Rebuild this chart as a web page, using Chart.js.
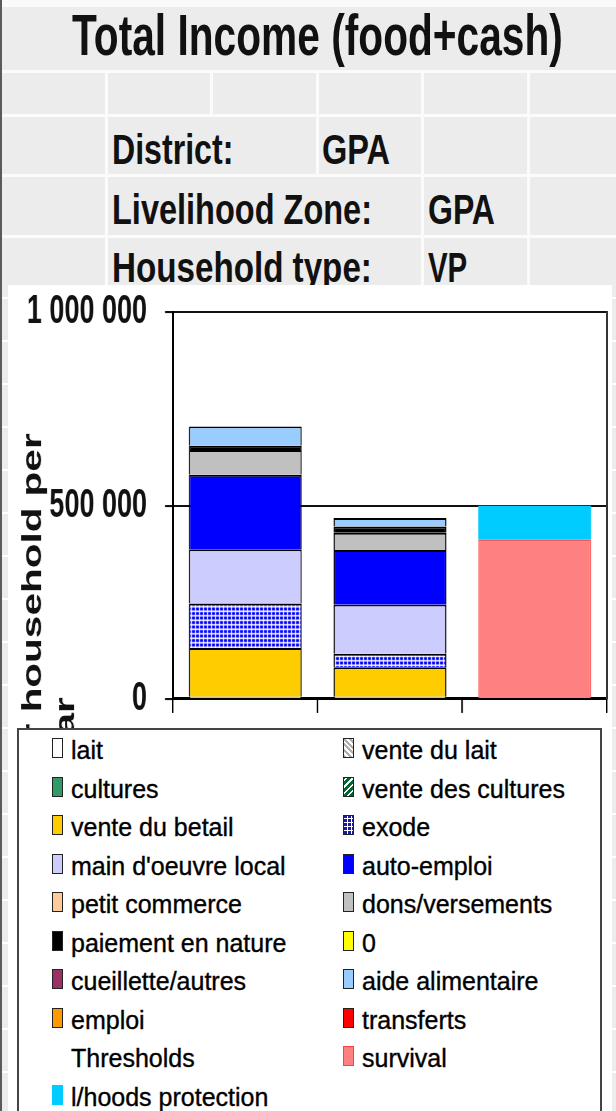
<!DOCTYPE html>
<html>
<head>
<meta charset="utf-8">
<script src="https://cdn.jsdelivr.net/npm/chart.js@4.4.1/dist/chart.umd.min.js"></script>
<style>
html,body{margin:0;padding:0;}
body{width:616px;height:1111px;overflow:hidden;background:#ececec;font-family:"Liberation Sans",Arial,sans-serif;}
#page{position:absolute;left:0;top:0;width:616px;height:1111px;overflow:hidden;background:#ececec;}
.topstrip{position:absolute;left:0;top:0;width:616px;height:7px;background:#fafafa;}
.leftline{position:absolute;left:0;top:0;width:2px;height:1111px;background:#5a5a5a;z-index:20;}
.hl{position:absolute;left:2px;width:614px;height:3px;background:#fbfbfb;}
.vl{position:absolute;width:3px;background:#fbfbfb;}
.txt{position:absolute;white-space:pre;color:#111;transform-origin:0 0;line-height:1;font-weight:bold;display:inline-block;}
.gutter{position:absolute;top:285px;height:826px;background:repeating-linear-gradient(#ececec 0 12px,#ffffff 12px 14px,#ececec 14px 43px);}
#panel{position:absolute;left:8px;top:285px;width:604px;height:826px;background:#fff;}
#chartBox{position:absolute;left:8px;top:260.7px;width:604px;height:326.2px;transform:scaleY(1.5);transform-origin:0 0;z-index:2;}
#ytitle{position:absolute;left:0;top:0;width:700px;line-height:33px;font-size:27px;font-weight:bold;color:#111;text-align:center;white-space:pre;transform-origin:0 0;transform:translate(16.1px,1264px) scaleY(1.5) rotate(-90deg);z-index:3;}
#legend{position:absolute;left:17px;top:728px;width:585px;height:420px;background:#fff;border:2px solid #444;box-sizing:border-box;z-index:5;
  display:grid;grid-template-columns:291px 1fr;grid-auto-rows:38.5px;padding:1.4px 0 0 33px;}
.item{display:flex;align-items:flex-start;font-size:25px;line-height:38.5px;color:#000;white-space:pre;-webkit-text-stroke:0.35px #000;}
.sw{width:11px;height:20px;box-sizing:border-box;border:1.5px solid #222;margin-top:7px;margin-right:8px;flex:none;}
</style>
</head>
<body>
<div id="page">
  <div class="topstrip"></div>
  <div class="hl" style="top:70px"></div>
  <div class="hl" style="top:114px"></div>
  <div class="hl" style="top:174px"></div>
  <div class="hl" style="top:235px"></div>
  <div class="vl" style="left:105px;top:72px;height:213px"></div>
  <div class="vl" style="left:210px;top:72px;height:43px"></div>
  <div class="vl" style="left:316px;top:72px;height:103px"></div>
  <div class="vl" style="left:421px;top:72px;height:213px"></div>
  <div class="vl" style="left:527px;top:72px;height:213px"></div>

  <div class="txt" data-w="491" style="left:72px;top:5.9px;font-size:58px;">Total Income (food+cash)</div>
  <div class="txt" data-w="121" style="left:112px;top:127.6px;font-size:43px;">District:</div>
  <div class="txt" data-w="68" style="left:322px;top:127.6px;font-size:43px;">GPA</div>
  <div class="txt" data-w="260" style="left:112px;top:187.6px;font-size:43px;">Livelihood Zone:</div>
  <div class="txt" data-w="67" style="left:428px;top:187.6px;font-size:43px;">GPA</div>
  <div class="txt" data-w="260" style="left:112px;top:245.6px;font-size:43px;">Household type:</div>
  <div class="txt" data-w="39" style="left:428px;top:245.6px;font-size:43px;">VP</div>

  <div class="gutter" style="left:2px;width:6px;"></div>
  <div class="gutter" style="left:612px;width:4px;"></div>
  <div id="panel"></div>
  <div id="ytitle">Total income per household per
year</div>
  <div id="chartBox"><canvas id="c"></canvas></div>
  <div id="legend"></div>
  <div class="leftline"></div>
</div>

<script>
// ---------- data ----------
const categories = ['Baseline', 'Current', 'Thresholds'];
const yTickValues = [0, 500000, 1000000];

const lait              = [6000, 6000, 0];
const venteDuLait       = [0, 0, 0];
const cultures          = [0, 0, 0];
const venteDesCultures  = [0, 0, 0];
const venteDuBetail     = [126000, 76000, 0];
const exode             = [115000, 35000, 0];
const mainDoeuvreLocal  = [140000, 127000, 0];
const autoEmploi        = [193000, 141000, 0];
const petitCommerce     = [0, 0, 0];
const donsVersements    = [64000, 45000, 0];
const paiementEnNature  = [11000, 16000, 0];
const zeroSeries        = [0, 0, 0];
const cueilletteAutres  = [0, 0, 0];
const aideAlimentaire   = [50000, 22000, 0];
const emploi            = [0, 0, 0];
const transferts        = [0, 0, 0];
const thresholds        = [0, 0, 0];
const survival          = [0, 0, 413000];
const lhoodsProtection  = [0, 0, 87000];

const seriesNames = ['lait','vente du lait','cultures','vente des cultures','vente du betail','exode',
  "main d'oeuvre local",'auto-emploi','petit commerce','dons/versements','paiement en nature','0',
  'cueillette/autres','aide alimentaire','emploi','transferts','Thresholds','survival','l/hoods protection'];
const seriesData = [lait, venteDuLait, cultures, venteDesCultures, venteDuBetail, exode,
  mainDoeuvreLocal, autoEmploi, petitCommerce, donsVersements, paiementEnNature, zeroSeries,
  cueilletteAutres, aideAlimentaire, emploi, transferts, thresholds, survival, lhoodsProtection];

// ---------- styles ----------
const seriesColors = ['#ffffff','#c8c8c8','#339966','#006633','#ffcc00','#0000ff',
  '#ccccff','#0000ff','#ffcc99','#c0c0c0','#000000','#ffff00',
  '#993366','#99ccff','#ff9900','#ff0000','rgba(0,0,0,0)','#ff8080','#00ccff'];
const swatchCss = {
  'vente du lait':'repeating-linear-gradient(45deg,#b0b0b0 0 2px,#ffffff 2px 4px)',
  'vente des cultures':'repeating-linear-gradient(-45deg,#006633 0 3px,#ffffff 3px 4.5px)',
  'exode':'repeating-linear-gradient(0deg,transparent 0 3px,#ffffff 3px 4px),repeating-linear-gradient(90deg,#1a1aa0 0 3px,#ffffff 3px 4px)'
};

const FONT = '"Liberation Sans", Arial, sans-serif';

// fit header texts to their widths
document.querySelectorAll('.txt').forEach(el => {
  const w = parseFloat(el.dataset.w);
  el.style.transform = 'scaleX(' + (w / el.offsetWidth) + ')';
});

function gridPattern() {
  const c = document.createElement('canvas');
  c.width = 4; c.height = 3;
  const g = c.getContext('2d');
  g.fillStyle = '#ffffff'; g.fillRect(0, 0, 4, 3);
  g.fillStyle = '#0000ff'; g.fillRect(0, 0, 3, 2);
  return g.createPattern(c, 'repeat');
}

const datasets = seriesNames.map((name, i) => {
  let bg = seriesColors[i];
  let border = '#000000', bw = 1.3;
  if (name === 'exode') bg = gridPattern();
  if (name === 'survival') border = '#ff5050';
  if (name === 'l/hoods protection' || name === 'Thresholds') bw = 0;
  return { label: name, data: seriesData[i], backgroundColor: bg, borderColor: border, borderWidth: bw, stack: 's' };
});

const fmt = v => String(v).replace(/\B(?=(\d{3})+(?!\d))/g, ' ');

const chart = new Chart(document.getElementById('c'), {
  type: 'bar',
  data: { labels: categories, datasets },
  options: {
    responsive: true, maintainAspectRatio: false, animation: false, devicePixelRatio: 1.5,
    layout: { padding: { top: 1.3, left: 19, right: 5, bottom: 12.6 } },
    plugins: { legend: { display: false }, tooltip: { enabled: false } },
    datasets: { bar: { categoryPercentage: 1, barPercentage: 0.78 } },
    scales: {
      x: {
        stacked: true,
        grid: { offset: true, drawOnChartArea: false, drawTicks: true, tickLength: 9.3, color: '#000', lineWidth: 1.5 },
        border: { display: true, color: '#000', width: 2 },
        ticks: { display: false }
      },
      y: {
        stacked: true, min: 0, max: 1000000,
        afterBuildTicks: s => { s.ticks = yTickValues.map(v => ({ value: v })); },
        afterFit: s => { s.width = 146; },
        ticks: { callback: v => fmt(v), font: { family: FONT, size: 27, weight: 'bold' }, color: '#111', padding: 18 },
        grid: { color: '#111', lineWidth: 1.4, tickLength: 8, drawTicks: true },
        border: { display: true, color: '#000', width: 2 }
      },
      yr: {
        type: 'linear', position: 'right', display: true,
        grid: { display: false, drawTicks: false },
        ticks: { display: false },
        border: { display: true, color: '#333', width: 2 }
      }
    }
  }
});

// HTML legend built from the chart's datasets
const legend = document.getElementById('legend');
chart.data.datasets.forEach((ds, i) => {
  const item = document.createElement('div');
  item.className = 'item';
  const sw = document.createElement('span');
  sw.className = 'sw';
  const name = ds.label;
  if (name === 'Thresholds') { sw.style.visibility = 'hidden'; }
  sw.style.background = swatchCss[name] || seriesColors[i];
  if (name === 'survival') sw.style.borderColor = '#ff4040';
  if (name === 'l/hoods protection') sw.style.border = 'none';
  const t = document.createElement('span');
  t.textContent = name;
  item.appendChild(sw); item.appendChild(t);
  legend.appendChild(item);
});
</script>
</body>
</html>
